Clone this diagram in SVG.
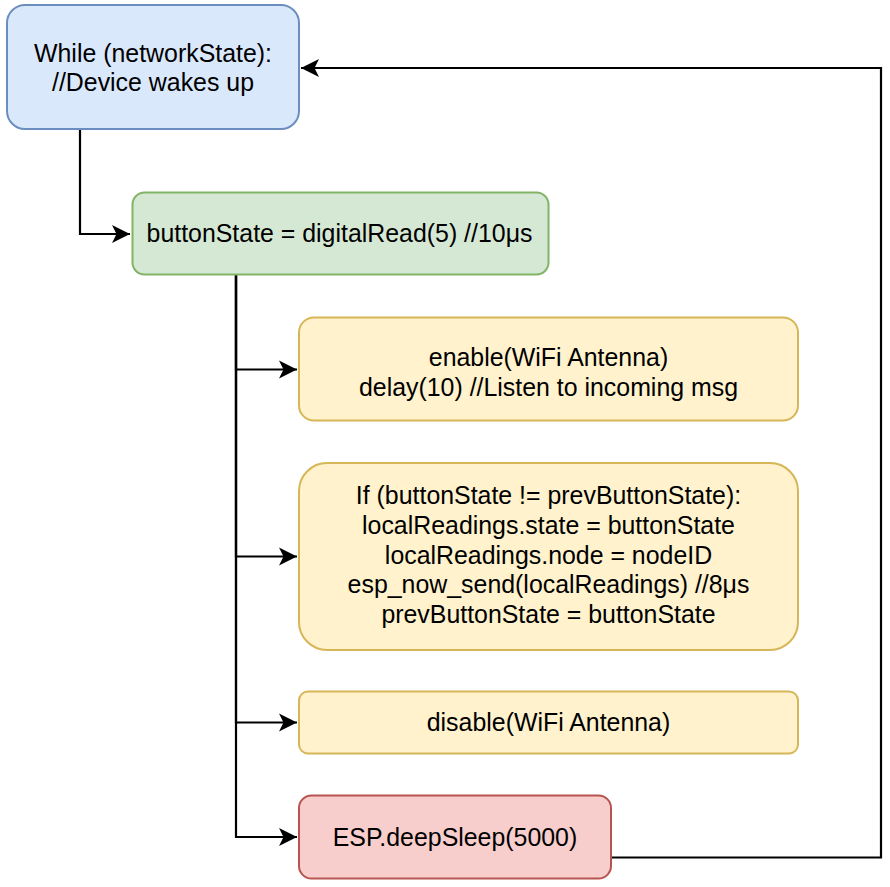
<svg xmlns="http://www.w3.org/2000/svg" width="890" height="887" viewBox="0 0 890 887">
  <style>
    .lbl { font-family: "Liberation Sans", Arial, sans-serif; font-size: 24.9px; fill: #000000; text-anchor: middle; }
    .blue { fill: #dae8fc; stroke: #6c8ebf; stroke-width: 2; }
    .green { fill: #d5e8d4; stroke: #82b366; stroke-width: 2; }
    .yellow { fill: #fff2cc; stroke: #d6b656; stroke-width: 2; }
    .red { fill: #f8cecc; stroke: #b85450; stroke-width: 2; }
    .edge { fill: none; stroke: #000000; stroke-width: 2.2; }
  </style>
  <defs>
    <marker id="arrow" viewBox="0 0 20 20" refX="18" refY="10" markerWidth="20" markerHeight="20" markerUnits="userSpaceOnUse" orient="auto">
      <path d="M18,10 L0,1 L4.5,10 L0,19 Z" fill="#000000"/>
    </marker>
  </defs>
  <rect width="890" height="887" fill="#ffffff"/>

  <g id="connectors">
    <!-- loop entry to first read -->
    <path class="edge" d="M80,129 V234 H130" marker-end="url(#arrow)"/>
    <!-- trunk from read to each step -->
    <path class="edge" d="M236,275 V369.5 H297" marker-end="url(#arrow)"/>
    <path class="edge" d="M236,275 V556.5 H297" marker-end="url(#arrow)"/>
    <path class="edge" d="M236,275 V722.5 H297" marker-end="url(#arrow)"/>
    <path class="edge" d="M236,275 V837 H297" marker-end="url(#arrow)"/>
    <!-- sleep back to loop -->
    <path class="edge" d="M611,857.5 H881 V68 H301" marker-end="url(#arrow)"/>
  </g>

  <g id="node-while">
    <rect class="blue" x="7" y="5" width="292" height="124" rx="18" ry="18"/>
    <text class="lbl" x="153" y="61.5">While (networkState):</text>
    <text class="lbl" x="153" y="90.8">//Device wakes up</text>
  </g>

  <g id="node-read">
    <rect class="green" x="132.5" y="192.5" width="416" height="82" rx="12" ry="12"/>
    <text class="lbl" x="339.5" y="241.7">buttonState = digitalRead(5) //10μs</text>
  </g>

  <g id="node-enable">
    <rect class="yellow" x="299" y="317.5" width="499" height="103" rx="15" ry="15"/>
    <text class="lbl" x="548.5" y="366">enable(WiFi Antenna)</text>
    <text class="lbl" x="548.5" y="395.6">delay(10) //Listen to incoming msg</text>
  </g>

  <g id="node-send">
    <rect class="yellow" x="299" y="463" width="499" height="187" rx="28" ry="28"/>
    <text class="lbl" x="548.5" y="504.4">If (buttonState != prevButtonState):</text>
    <text class="lbl" x="548.5" y="534">localReadings.state = buttonState</text>
    <text class="lbl" x="548.5" y="563.6">localReadings.node = nodeID</text>
    <text class="lbl" x="548.5" y="593.2">esp_now_send(localReadings) //8μs</text>
    <text class="lbl" x="548.5" y="622.8">prevButtonState = buttonState</text>
  </g>

  <g id="node-disable">
    <rect class="yellow" x="299" y="691.5" width="499" height="62" rx="9" ry="9"/>
    <text class="lbl" x="548.5" y="730.5">disable(WiFi Antenna)</text>
  </g>

  <g id="node-sleep">
    <rect class="red" x="299" y="795.5" width="312" height="83" rx="12.5" ry="12.5"/>
    <text class="lbl" x="455" y="845.7">ESP.deepSleep(5000)</text>
  </g>
</svg>
